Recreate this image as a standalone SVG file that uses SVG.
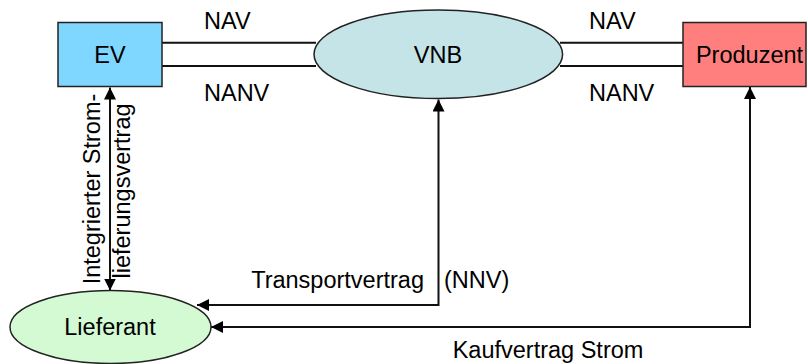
<svg xmlns="http://www.w3.org/2000/svg" width="808" height="364" viewBox="0 0 808 364">
<style>
text{font-family:"Liberation Sans",Arial,sans-serif;font-size:23.5px;fill:#000}
.node{stroke:#222;stroke-width:1.5}
.c{fill:none;stroke:#111;stroke-width:2}
</style>
<defs>
<marker id="ah" viewBox="0 0 12 12" refX="12" refY="6" markerWidth="12" markerHeight="12" markerUnits="userSpaceOnUse" orient="auto-start-reverse">
<path d="M0,0 L12,6 L0,12 Z" fill="#000"/>
</marker>
</defs>
<rect width="808" height="364" fill="#fff"/>
<g id="connectors">
<line class="c" x1="162" y1="42.7" x2="316" y2="42.7"/>
<line class="c" x1="162" y1="66" x2="316" y2="66"/>
<line class="c" x1="560" y1="42.7" x2="683" y2="42.7"/>
<line class="c" x1="560" y1="66" x2="683" y2="66"/>
<line class="c" x1="110" y1="87.5" x2="110" y2="290.5" marker-start="url(#ah)" marker-end="url(#ah)"/>
<polyline class="c" points="438.5,99.5 438.5,305 197,305" marker-start="url(#ah)" marker-end="url(#ah)"/>
<polyline class="c" points="750,87 750,327 211,327" marker-start="url(#ah)" marker-end="url(#ah)"/>
</g>
<g id="EV">
<rect class="node" x="58" y="22.5" width="104" height="64" fill="#7fd6ff"/>
<text x="110" y="63" text-anchor="middle">EV</text>
</g>
<g id="VNB">
<ellipse class="node" cx="438.3" cy="54.3" rx="124.3" ry="44.3" fill="#c4e4e8"/>
<text x="438" y="62.7" text-anchor="middle">VNB</text>
</g>
<g id="Produzent">
<rect class="node" x="683" y="22.5" width="123" height="64" fill="#ff7f7f"/>
<text x="749.5" y="63" text-anchor="middle">Produzent</text>
</g>
<g id="Lieferant">
<ellipse class="node" cx="110.5" cy="327" rx="100.5" ry="36.5" fill="#d4fad4"/>
<text x="110" y="335" text-anchor="middle">Lieferant</text>
</g>
<g id="labels">
<text x="204" y="29">NAV</text>
<text x="204" y="101">NANV</text>
<text x="589" y="29">NAV</text>
<text x="589" y="101">NANV</text>
<text transform="translate(100,189) rotate(-90)" text-anchor="middle">Integrierter Strom-</text>
<text transform="translate(130,191) rotate(-90)" text-anchor="middle">lieferungsvertrag</text>
<text x="424" y="288" text-anchor="end">Transportvertrag</text>
<text x="444" y="288">(NNV)</text>
<text x="452.7" y="358">Kaufvertrag Strom</text>
</g>
</svg>
